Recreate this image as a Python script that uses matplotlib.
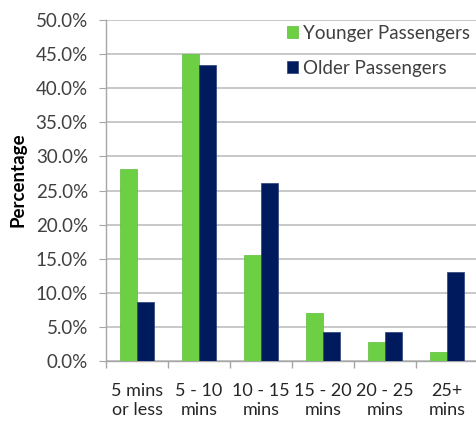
import matplotlib
matplotlib.use("Agg")
import matplotlib.pyplot as plt
import numpy as np
from matplotlib.ticker import FuncFormatter, FixedLocator

categories = ["5 mins\nor less", "5 - 10\nmins", "10 - 15\nmins", "15 - 20\nmins", "20 - 25\nmins", "25+\nmins"]
younger = [28.1, 45.0, 15.5, 7.0, 2.8, 1.3]
older = [8.6, 43.4, 26.1, 4.3, 4.3, 13.0]
series_names = ["Younger Passengers", "Older Passengers"]

plt.rcParams['font.family'] = ['Lato', 'DejaVu Sans']

fig = plt.figure(figsize=(4.76, 4.21), dpi=100)
ax = fig.add_axes([106/476, 1-361/421, 372/476, 341/421])

x = np.arange(len(categories))
w = 0.28
ax.bar(x - w/2, younger, w, color="#6CCF44", edgecolor="#5DBE3A", linewidth=0.5, label=series_names[0], zorder=3)
ax.bar(x + w/2, older, w, color="#001A5E", edgecolor="#2A3F7A", linewidth=0.5, label=series_names[1], zorder=3)

ax.set_xlim(-0.5, len(categories) - 0.5)
ax.set_ylim(0, 50)
ax.set_yticks(np.arange(0, 50.1, 5))
ax.yaxis.set_major_formatter(FuncFormatter(lambda v, p: f"{v:.1f}%"))
ax.grid(axis="y", color="#BFBFBF", linewidth=1.2, zorder=0)

ax.set_xticks(x)
ax.set_xticklabels(categories, fontsize=13, color="#262626", linespacing=1.25)
ax.xaxis.set_minor_locator(FixedLocator(np.arange(-0.5, len(categories), 1)))
ax.tick_params(axis="x", which="major", length=0, pad=16)
ax.tick_params(axis="x", which="minor", length=5, color="#A6A6A6", width=1)
ax.tick_params(axis="y", length=5, color="#A6A6A6", labelsize=13.5, labelcolor="#404040", pad=8)

for s in ["top", "right"]:
    ax.spines[s].set_visible(False)
for s in ["left", "bottom"]:
    ax.spines[s].set_color("#A6A6A6")
    ax.spines[s].set_linewidth(1)

fig.text(18/476, 1-180/421, "Percentage", rotation=90, fontsize=13.5, fontweight="bold",
         color="black", ha="center", va="center")

leg = ax.legend(loc="upper left", bbox_to_anchor=(0.44, 1.035), frameon=False, fontsize=13.5,
                handlelength=0.6, handleheight=0.6, handletextpad=0.3, labelspacing=0.95,
                labelcolor="#404040")

fig.savefig("out.png", dpi=100)
